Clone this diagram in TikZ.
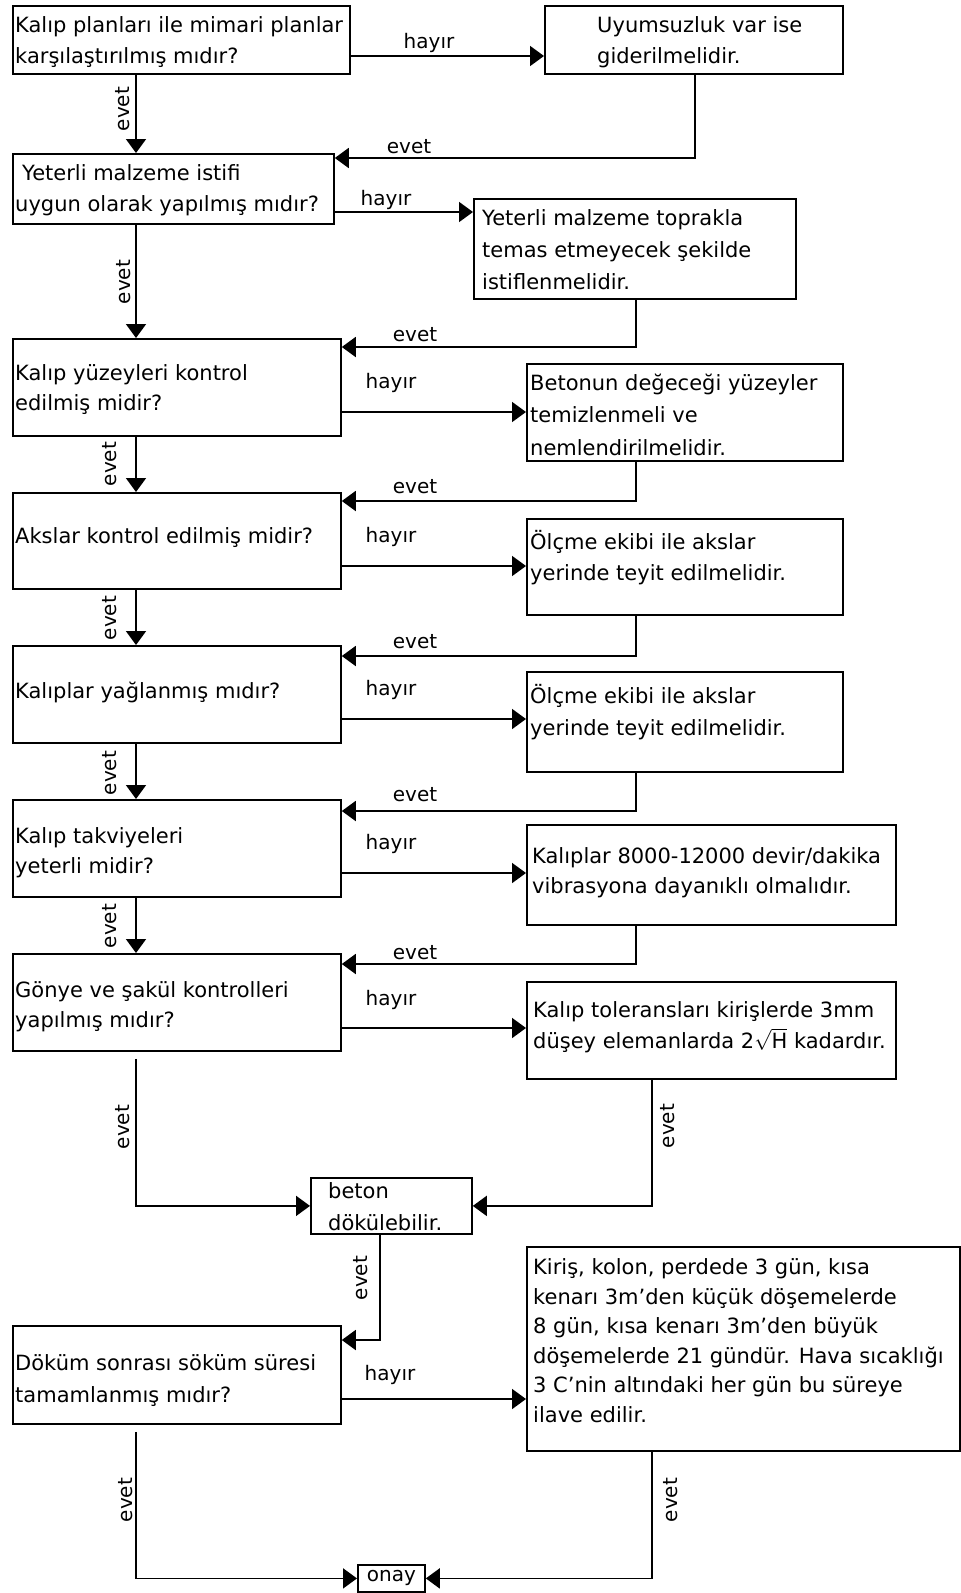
\documentclass[tikz,border=0pt]{standalone}
\usepackage{fontspec}
\setmainfont{DejaVu Sans}
\usetikzlibrary{arrows.meta,calc}

% box: #1 name, #2 left, #3 top, #4 right, #5 bottom (pixel-like units, y down)
\newcommand\flowbox[5]{%
  \node[box, minimum width={(#4-#2)*1pt}, minimum height={(#5-#3)*1pt}] (#1) at (#2,#3) {};}
% text block: #1 name, #2 x, #3 baseline of the last line, #4 line skip, #5 text
\newcommand\flowtext[5]{%
  \node[txt, font=\fontsize{21}{#4}\selectfont] (#1) at (#2,#3) {#5};}

\begin{document}
\begin{tikzpicture}[x=1pt,y=-1pt,
  box/.style={draw, line width=1.8pt, inner sep=0pt, anchor=north west},
  txt/.style={inner sep=0pt, anchor=base west, align=left},
  lbl/.style={inner sep=0pt, font=\fontsize{20}{24}\selectfont},
  vlbl/.style={lbl, rotate=90},
  ln/.style={line width=1.8pt},
  arr/.style={ln, -{Triangle[length=14pt,width=20pt]}}]

\useasboundingbox[fill=white] (0,0) rectangle (961,1593);

% ---- boxes ----
\flowbox{q1}{12}{5}{349}{73}
\flowbox{a1}{544}{5}{842}{73}
\flowbox{q2}{12}{153}{333}{223}
\flowbox{a2}{473}{198}{795}{298}
\flowbox{q3}{12}{338}{340}{435}
\flowbox{a3}{526}{363}{842}{460}
\flowbox{q4}{12}{492}{340}{588}
\flowbox{a4}{526}{518}{842}{614}
\flowbox{q5}{12}{645}{340}{742}
\flowbox{a5}{526}{671}{842}{771}
\flowbox{q6}{12}{799}{340}{896}
\flowbox{a6}{526}{824}{895}{924}
\flowbox{q7}{12}{953}{340}{1050}
\flowbox{a7}{526}{981}{895}{1078}
\flowbox{d1}{310}{1177}{471}{1233}
\flowbox{q8}{12}{1325}{340}{1423}
\flowbox{a8}{526}{1246}{959}{1450}
\node[box, minimum width=67pt, minimum height=27pt, font=\fontsize{20}{24}\selectfont] (on) at (357,1564) {onay};

% ---- box texts ----
\flowtext{q1t}{15}{63}{31}{Kalıp planları ile mimari planlar\\karşılaştırılmış mıdır?}
\flowtext{a1t}{597}{63}{31}{Uyumsuzluk var ise\\giderilmelidir.}
\flowtext{q2t}{15}{211}{31}{\hspace*{7pt}Yeterli malzeme istifi\\uygun olarak yapılmış mıdır?}
\flowtext{a2t}{482}{289}{32}{Yeterli malzeme toprakla\\temas etmeyecek şekilde\\istiflenmelidir.}
\flowtext{q3t}{15}{410}{30}{Kalıp yüzeyleri kontrol\\edilmiş midir?}
\flowtext{a3t}{530}{455}{32.5}{Betonun değeceği yüzeyler\\temizlenmeli ve\\nemlendirilmelidir.}
\flowtext{q4t}{15}{543}{30}{Akslar kontrol edilmiş midir?}
\flowtext{a4t}{530}{580}{31}{Ölçme ekibi ile akslar\\yerinde teyit edilmelidir.}
\flowtext{q5t}{15}{698}{30}{Kalıplar yağlanmış mıdır?}
\flowtext{a5t}{530}{735}{32}{Ölçme ekibi ile akslar\\yerinde teyit edilmelidir.}
\flowtext{q6t}{15}{873}{30}{Kalıp takviyeleri\\yeterli midir?}
\flowtext{a6t}{532}{893}{30}{Kalıplar 8000-12000 devir/dakika\\vibrasyona dayanıklı olmalıdır.}
\flowtext{q7t}{15}{1027}{30}{Gönye ve şakül kontrolleri\\yapılmış mıdır?}
\flowtext{a7t}{533}{1048}{31}{Kalıp toleransları kirişlerde 3mm\\düşey elemanlarda 2$\sqrt{\mathrm{H}}$ kadardır.}
\flowtext{d1t}{328}{1230}{32}{beton\\dökülebilir.}
\flowtext{q8t}{15}{1402}{32}{Döküm sonrası söküm süresi\\tamamlanmış mıdır?}
\flowtext{a8t}{533}{1422}{29.5}{Kiriş, kolon, perdede 3 gün, kısa\\kenarı 3m'den küçük döşemelerde\\8 gün, kısa kenarı 3m'den büyük\\döşemelerde 21 gündür. Hava sıcaklığı\\3 C'nin altındaki her gün bu süreye\\ilave edilir.}

% ---- main column: evet ----
\draw[arr] ($(q1.south west)+(124,0)$) -- ($(q2.north west)+(124,0)$);
\draw[arr] ($(q2.south west)+(124,0)$) -- ($(q3.north west)+(124,0)$);
\draw[arr] ($(q3.south west)+(124,0)$) -- ($(q4.north west)+(124,0)$);
\draw[arr] ($(q4.south west)+(124,0)$) -- ($(q5.north west)+(124,0)$);
\draw[arr] ($(q5.south west)+(124,0)$) -- ($(q6.north west)+(124,0)$);
\draw[arr] ($(q6.south west)+(124,0)$) -- ($(q7.north west)+(124,0)$);

% ---- hayir branches ----
\draw[arr] ($(q1.north east)+(0,51)$) -- ($(a1.north west)+(0,51)$);
\draw[arr] ($(q2.north east)+(0,59)$) -- ($(a2.north west)+(0,14)$);
\draw[arr] ($(q3.north east)+(0,74)$) -- ($(a3.north west)+(0,49)$);
\draw[arr] ($(q4.north east)+(0,74)$) -- ($(a4.north west)+(0,48)$);
\draw[arr] ($(q5.north east)+(0,74)$) -- ($(a5.north west)+(0,48)$);
\draw[arr] ($(q6.north east)+(0,74)$) -- ($(a6.north west)+(0,49)$);
\draw[arr] ($(q7.north east)+(0,75)$) -- ($(a7.north west)+(0,47)$);
\draw[arr] ($(q8.north east)+(0,74)$) -- ($(a8.north west)+(0,153)$);

% ---- returns to the main column ----
\draw[arr] ($(a1.south west)+(151,0)$) |- ($(q2.north east)+(0,5)$);
\draw[arr] ($(a2.south west)+(163,0)$) |- ($(q3.north east)+(0,9)$);
\draw[arr] ($(a3.south west)+(110,0)$) |- ($(q4.north east)+(0,9)$);
\draw[arr] ($(a4.south west)+(110,0)$) |- ($(q5.north east)+(0,11)$);
\draw[arr] ($(a5.south west)+(110,0)$) |- ($(q6.north east)+(0,12)$);
\draw[arr] ($(a6.south west)+(110,0)$) |- ($(q7.north east)+(0,11)$);

% ---- to "beton dökülebilir" and onward ----
\draw[arr] ($(q7.south west)+(124,7)$) |- (d1.west);
\draw[arr] ($(a7.south west)+(126,0)$) |- (d1.east);
\draw[arr] ($(d1.south west)+(70,0)$) |- ($(q8.north east)+(0,15)$);
\draw[arr] ($(q8.south west)+(124,7)$) |- (on.west);
\draw[arr] ($(a8.south west)+(126,0)$) |- (on.east);

% ---- labels ----
\node[lbl] (h1) at (429,43) {hayır};
\node[lbl] (h2) at (386,200) {hayır};
\node[lbl] (h3) at (391,383) {hayır};
\node[lbl] (h4) at (391,537) {hayır};
\node[lbl] (h5) at (391,690) {hayır};
\node[lbl] (h6) at (391,844) {hayır};
\node[lbl] (h7) at (391,1000) {hayır};
\node[lbl] (h8) at (390,1375) {hayır};

\node[lbl] (e1) at (409,147) {evet};
\node[lbl] (e2) at (415,335) {evet};
\node[lbl] (e3) at (415,487) {evet};
\node[lbl] (e4) at (415,642) {evet};
\node[lbl] (e5) at (415,795) {evet};
\node[lbl] (e6) at (415,953) {evet};

\node[vlbl] (v1) at (123,109) {evet};
\node[vlbl] (v2) at (124,282) {evet};
\node[vlbl] (v3) at (110,464) {evet};
\node[vlbl] (v4) at (110,618) {evet};
\node[vlbl] (v5) at (110,773) {evet};
\node[vlbl] (v6) at (110,926) {evet};
\node[vlbl] (v7) at (123,1127) {evet};
\node[vlbl] (v8) at (668,1126) {evet};
\node[vlbl] (v9) at (361,1278) {evet};
\node[vlbl] (v10) at (126,1500) {evet};
\node[vlbl] (v11) at (671,1500) {evet};
\end{tikzpicture}
\end{document}
